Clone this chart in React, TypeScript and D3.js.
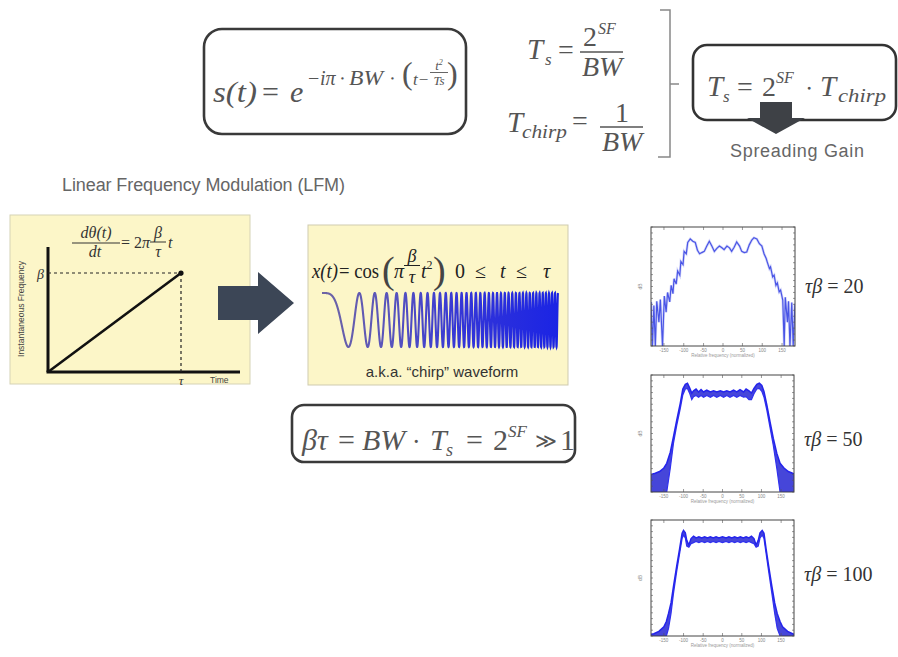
import * as d3 from "d3";

const SERIF = "'Liberation Serif', 'Times New Roman', serif";
const SANS = "'Liberation Sans', Arial, sans-serif";
const INK = "#555";

// time-bandwidth product of the drawn chirp, x(t) = cos(pi * beta/tau * t^2)
const CHIRP_TB = 80;
const CHIRP_SAMPLES = 4000;

// instantaneous frequency sketch (normalised t and f)
const LFM_T = [0, 1];
const LFM_F = [0, 1];

// spectrum plots: x is normalised frequency, y is relative magnitude
const SPEC_TICKS = [-0.82, -0.545, -0.27, 0, 0.27, 0.545, 0.82];
const SPEC_TICK_LABELS = ["-150", "-100", "-50", "0", "50", "100", "150"];

const TB20_X = [
  -1.0, -0.98, -0.96, -0.94, -0.92, -0.89, -0.87, -0.84, -0.815, -0.79, -0.77, -0.74, -0.72, -0.695,
  -0.68, -0.65, -0.63, -0.6, -0.585, -0.555, -0.54, -0.51, -0.49, -0.455, -0.42, -0.385, -0.355,
  -0.325, -0.295, -0.26, -0.225, -0.19, -0.155, -0.12, -0.085, -0.05, -0.015, 0.015, 0.055, 0.09,
  0.12, 0.155, 0.19, 0.23, 0.26, 0.295, 0.33, 0.365, 0.4, 0.43, 0.47, 0.505, 0.54, 0.57, 0.6, 0.615,
  0.645, 0.66, 0.69, 0.71, 0.735, 0.755, 0.78, 0.8, 0.83, 0.85, 0.865, 0.895, 0.91, 0.93, 0.955,
  0.975, 1.0,
];
const TB20_Y = [
  0.37, 0.0, 0.34, 0.0, 0.375, 0.2, 0.39, 0.0, 0.42, 0.285, 0.45, 0.37, 0.51, 0.44, 0.565, 0.52,
  0.63, 0.595, 0.71, 0.685, 0.795, 0.775, 0.87, 0.9, 0.88, 0.87, 0.805, 0.775, 0.785, 0.795, 0.84,
  0.88, 0.84, 0.795, 0.82, 0.84, 0.825, 0.81, 0.84, 0.825, 0.795, 0.83, 0.875, 0.84, 0.795, 0.785,
  0.79, 0.85, 0.89, 0.91, 0.9, 0.86, 0.84, 0.775, 0.735, 0.705, 0.65, 0.665, 0.58, 0.595, 0.51,
  0.53, 0.455, 0.47, 0.385, 0.0, 0.41, 0.2, 0.375, 0.0, 0.365, 0.0, 0.355,
];

const TB50_X = [
  -1.0, -0.94, -0.88, -0.82, -0.78, -0.73, -0.685, -0.64, -0.59, -0.555, -0.52, -0.49, -0.46, -0.43,
  -0.405, -0.37, -0.335, -0.3, -0.265, -0.22, -0.17, -0.125, -0.08, -0.03, 0.015, 0.06, 0.105, 0.155,
  0.2, 0.245, 0.295, 0.33, 0.37, 0.405, 0.44, 0.48, 0.515, 0.55, 0.58, 0.62, 0.665, 0.71, 0.76,
  0.805, 0.86, 0.92, 1.0,
];
const TB50_UPPER = [
  0.15, 0.16, 0.175, 0.205, 0.245, 0.34, 0.475, 0.615, 0.76, 0.88, 0.92, 0.93, 0.89, 0.845, 0.865,
  0.88, 0.855, 0.875, 0.855, 0.87, 0.855, 0.865, 0.855, 0.865, 0.855, 0.865, 0.855, 0.87, 0.855,
  0.875, 0.855, 0.88, 0.865, 0.845, 0.885, 0.92, 0.93, 0.91, 0.86, 0.745, 0.6, 0.46, 0.33, 0.245,
  0.205, 0.175, 0.155,
];
const TB50_LOWER = [
  0, 0, 0, 0, 0, 0.205, 0.42, 0.57, 0.715, 0.83, 0.88, 0.885, 0.845, 0.79, 0.815, 0.825, 0.81, 0.825,
  0.81, 0.825, 0.81, 0.825, 0.81, 0.825, 0.81, 0.825, 0.81, 0.825, 0.81, 0.825, 0.81, 0.815, 0.79,
  0.79, 0.84, 0.88, 0.885, 0.86, 0.81, 0.7, 0.55, 0.4, 0.2, 0, 0, 0, 0,
];

const TB100_X = [
  -1.0, -0.96, -0.89, -0.82, -0.785, -0.755, -0.72, -0.685, -0.64, -0.6, -0.565, -0.545, -0.52, -0.5,
  -0.47, -0.44, -0.405, -0.37, -0.33, -0.29, -0.25, -0.21, -0.17, -0.13, -0.09, -0.05, 0, 0.05, 0.09,
  0.13, 0.17, 0.21, 0.25, 0.29, 0.33, 0.37, 0.405, 0.44, 0.47, 0.5, 0.525, 0.555, 0.58, 0.61, 0.645,
  0.69, 0.73, 0.765, 0.805, 0.84, 0.91, 1.0,
];
const TB100_UPPER = [
  0.015, 0.02, 0.04, 0.08, 0.125, 0.195, 0.285, 0.43, 0.605, 0.75, 0.885, 0.91, 0.89, 0.825, 0.785,
  0.84, 0.86, 0.845, 0.855, 0.845, 0.855, 0.845, 0.855, 0.845, 0.855, 0.845, 0.855, 0.845, 0.855,
  0.845, 0.855, 0.845, 0.855, 0.845, 0.855, 0.845, 0.86, 0.84, 0.785, 0.825, 0.89, 0.91, 0.885, 0.75,
  0.605, 0.43, 0.285, 0.195, 0.125, 0.08, 0.04, 0.015,
];
const TB100_LOWER = [
  0, 0, 0, 0, 0, 0.065, 0.195, 0.37, 0.56, 0.71, 0.84, 0.87, 0.845, 0.775, 0.765, 0.795, 0.805, 0.815,
  0.805, 0.815, 0.805, 0.815, 0.805, 0.815, 0.805, 0.815, 0.805, 0.815, 0.805, 0.815, 0.805, 0.815,
  0.805, 0.815, 0.805, 0.815, 0.805, 0.795, 0.765, 0.775, 0.845, 0.87, 0.84, 0.71, 0.56, 0.37, 0.195,
  0.065, 0, 0, 0, 0,
];

type SpecProps = {
  id: string;
  left: number;
  top: number;
  width: number;
  height: number;
  xs: number[];
  upper: number[];
  lower?: number[];
  label: string;
  labelY: number;
};

function Spectrum({ id, left, top, width, height, xs, upper, lower, label, labelY }: SpecProps) {
  const x = d3.scaleLinear().domain([-1, 1]).range([left, left + width]);
  const y = d3.scaleLinear().domain([0, 1]).range([top + height, top]);
  const idx = d3.range(xs.length);

  const upperPath = d3
    .line<number>()
    .x((i) => x(xs[i]))
    .y((i) => y(upper[i]))(idx);
  const lowerPath = lower
    ? d3
        .line<number>()
        .x((i) => x(xs[i]))
        .y((i) => y(lower[i]))(idx)
    : null;
  const bandPath = lower
    ? d3
        .area<number>()
        .x((i) => x(xs[i]))
        .y0((i) => y(lower[i]))
        .y1((i) => y(upper[i]))(idx)
    : null;

  const yTicks = d3.range(0, 21).map((k) => k / 20);

  return (
    <g>
      <defs>
        <clipPath id={`clip-${id}`}>
          <rect x={left} y={top} width={width} height={height} />
        </clipPath>
      </defs>
      <rect x={left} y={top} width={width} height={height} fill="#fff" />
      <g clipPath={`url(#clip-${id})`}>
        {bandPath ? (
          <>
            <path d={bandPath} fill="#1818d0" opacity={0.8} />
            <path d={lowerPath ?? ""} fill="none" stroke="#3030f0" strokeWidth={1.2} />
            <path d={upperPath ?? ""} fill="none" stroke="#2424ec" strokeWidth={1.5} />
          </>
        ) : (
          <>
            <path d={upperPath ?? ""} fill="none" stroke="#b4b9f5" strokeWidth={2.6} opacity={0.6} />
            <path d={upperPath ?? ""} fill="none" stroke="#4a55e6" strokeWidth={1.2} />
          </>
        )}
      </g>
      <rect x={left} y={top} width={width} height={height} fill="none" stroke="#444" strokeWidth={1} />
      {yTicks.map((t) => (
        <g key={t} stroke="#555" strokeWidth={0.6}>
          <line x1={left} x2={left + 2} y1={y(t)} y2={y(t)} />
          <line x1={left + width - 2} x2={left + width} y1={y(t)} y2={y(t)} />
        </g>
      ))}
      {SPEC_TICKS.map((t, i) => (
        <g key={t}>
          <line x1={x(t)} x2={x(t)} y1={top + height} y2={top + height - 3} stroke="#555" strokeWidth={0.6} />
          <line x1={x(t)} x2={x(t)} y1={top} y2={top + 3} stroke="#555" strokeWidth={0.6} />
          <text x={x(t)} y={top + height + 5.5} fontSize={4.5} fill="#888" textAnchor="middle" fontFamily={SANS}>
            {SPEC_TICK_LABELS[i]}
          </text>
        </g>
      ))}
      <text
        x={left + width / 2}
        y={top + height + 11}
        fontSize={4.5}
        fill="#999"
        textAnchor="middle"
        fontFamily={SANS}
      >
        Relative frequency (normalized)
      </text>
      <text
        transform={`translate(${left - 9}, ${top + height / 2}) rotate(-90)`}
        fontSize={5}
        fill="#888"
        textAnchor="middle"
        fontFamily={SANS}
      >
        dB
      </text>
      <text x={left + width + 10} y={labelY} fontSize={20} fill="#333" fontFamily={SERIF}>
        <tspan fontStyle="italic">τβ</tspan> = {label}
      </text>
    </g>
  );
}

function Chirp() {
  const x0 = 322;
  const x1 = 558;
  const x = d3.scaleLinear().domain([0, 1]).range([x0, x1]);
  const y = d3.scaleLinear().domain([-1, 1]).range([347, 293]);
  const ts = d3.range(CHIRP_SAMPLES + 1).map((k) => k / CHIRP_SAMPLES);
  const path = d3
    .line<number>()
    .x((t) => x(t))
    .y((t) => y(Math.cos(Math.PI * CHIRP_TB * t * t)))(ts);
  return (
    <g>
      <defs>
        <linearGradient id="chirp-grad" gradientUnits="userSpaceOnUse" x1={x0} x2={x1} y1={0} y2={0}>
          <stop offset="0%" stopColor="#6e64a4" />
          <stop offset="30%" stopColor="#5753bd" />
          <stop offset="60%" stopColor="#3335d8" />
          <stop offset="100%" stopColor="#1b24e4" />
        </linearGradient>
      </defs>
      <path d={path ?? ""} fill="none" stroke="url(#chirp-grad)" strokeWidth={2.1} />
    </g>
  );
}

function LfmSketch() {
  const t = d3.scaleLinear().domain(LFM_T).range([48, 181]);
  const f = d3.scaleLinear().domain(LFM_F).range([372, 273]);
  const ramp = d3
    .line<number>()
    .x((v) => t(v))
    .y((v) => f(v))(LFM_T);
  return (
    <g>
      <rect x={10} y={215} width={240} height={169} fill="#fcf6c8" stroke="#d6d3b6" strokeWidth={1} />
      <line x1={t(0)} x2={t(0)} y1={247} y2={f(0)} stroke="#111" strokeWidth={3} />
      <line x1={t(0) - 1.5} x2={240} y1={f(0)} y2={f(0)} stroke="#111" strokeWidth={3} />
      <line x1={t(0)} x2={t(1)} y1={f(1)} y2={f(1)} stroke="#222" strokeWidth={1.2} strokeDasharray="3,3" />
      <line x1={t(1)} x2={t(1)} y1={f(1)} y2={f(0)} stroke="#222" strokeWidth={1.2} strokeDasharray="3,3" />
      <path d={ramp ?? ""} stroke="#111" strokeWidth={2.6} fill="none" />
      <circle cx={t(1)} cy={f(1)} r={2.6} fill="#111" />
      <text x={37} y={279} fontSize={14} fontStyle="italic" fontFamily={SERIF} fill="#333">
        β
      </text>
      <text x={t(1)} y={385} fontSize={13} fontStyle="italic" fontFamily={SERIF} fill="#333" textAnchor="middle">
        τ
      </text>
      <text x={210} y={383} fontSize={8.5} fontFamily={SANS} fill="#444">
        Time
      </text>
      <text
        transform="translate(24, 309) rotate(-90)"
        fontSize={8.5}
        fontFamily={SANS}
        fill="#444"
        textAnchor="middle"
      >
        Instantaneous Frequency
      </text>
      {/* d theta / dt = 2 pi beta / tau t */}
      <g fontFamily={SERIF} fontSize={16} fill="#333">
        <text x={96} y={238} fontStyle="italic" textAnchor="middle">
          dθ(t)
        </text>
        <line x1={72} x2={120} y1={243} y2={243} stroke="#333" strokeWidth={1} />
        <text x={95} y={257} fontStyle="italic" textAnchor="middle">
          dt
        </text>
        <text x={121} y={248}>
          = 2<tspan fontStyle="italic">π</tspan>
        </text>
        <text x={158} y={238} fontStyle="italic" textAnchor="middle">
          β
        </text>
        <line x1={150} x2={166} y1={242} y2={242} stroke="#333" strokeWidth={1} />
        <text x={158} y={257} fontStyle="italic" textAnchor="middle">
          τ
        </text>
        <text x={168} y={248} fontStyle="italic">
          t
        </text>
      </g>
    </g>
  );
}

export default function App() {
  return (
    <svg
      width={898}
      height={657}
      viewBox="0 0 898 657"
      style={{ position: "absolute", left: 0, top: 0, background: "#fff" }}
    >
      <rect x={0} y={0} width={898} height={657} fill="#fff" />

      {/* s(t) box */}
      <rect x={204} y={29} width={262} height={105} rx={18} fill="#fff" stroke="#3a3a3a" strokeWidth={2.6} />
      <g fontFamily={SERIF} fill={INK}>
        <text x={213} y={102} fontSize={30} fontStyle="italic" textLength={44} lengthAdjust="spacingAndGlyphs">
          s(t)
        </text>
        <text x={262} y={102} fontSize={30}>
          =
        </text>
        <text x={290} y={102} fontSize={30} fontStyle="italic">
          e
        </text>
        <text x={308} y={85} fontSize={20}>
          −
        </text>
        <text x={320} y={85} fontSize={20} fontStyle="italic">
          iπ
        </text>
        <text x={340} y={85} fontSize={20}>
          ∙
        </text>
        <text x={349} y={85} fontSize={21} fontStyle="italic" textLength={34} lengthAdjust="spacingAndGlyphs">
          BW
        </text>
        <text x={390} y={85} fontSize={20}>
          ∙
        </text>
        <text x={402} y={84} fontSize={32}>
          (
        </text>
        <text x={413} y={85} fontSize={17} fontStyle="italic">
          t−
        </text>
        <text x={439} y={70} fontSize={13} fontStyle="italic" textAnchor="middle">
          t<tspan fontSize={8} dy={-5}>2</tspan>
        </text>
        <line x1={430} x2={448} y1={72.5} y2={72.5} stroke={INK} strokeWidth={0.9} />
        <text x={439} y={85} fontSize={13} fontStyle="italic" textAnchor="middle">
          Ts
        </text>
        <text x={447} y={84} fontSize={32}>
          )
        </text>
      </g>

      {/* Ts = 2^SF / BW and Tchirp = 1 / BW */}
      <g fontFamily={SERIF} fill={INK}>
        <text x={527} y={59} fontSize={29} fontStyle="italic">
          T
        </text>
        <text x={545} y={65} fontSize={17} fontStyle="italic">
          s
        </text>
        <text x={558} y={59} fontSize={28}>
          =
        </text>
        <text x={583} y={46} fontSize={28}>
          2
        </text>
        <text x={598} y={34} fontSize={16} fontStyle="italic">
          SF
        </text>
        <line x1={580} x2={623} y1={52} y2={52} stroke={INK} strokeWidth={1.3} />
        <text x={582} y={76} fontSize={28} fontStyle="italic">
          BW
        </text>

        <text x={507} y={132} fontSize={29} fontStyle="italic">
          T
        </text>
        <text x={522} y={138} fontSize={19} fontStyle="italic" textLength={45} lengthAdjust="spacingAndGlyphs">
          chirp
        </text>
        <text x={572} y={130} fontSize={28}>
          =
        </text>
        <text x={615} y={122} fontSize={28}>
          1
        </text>
        <line x1={600} x2={643} y1={127} y2={127} stroke={INK} strokeWidth={1.3} />
        <text x={602} y={151} fontSize={28} fontStyle="italic">
          BW
        </text>
      </g>

      {/* bracket */}
      <path d="M660,10 H670 V157 H658" fill="none" stroke="#888" strokeWidth={1.5} />
      <line x1={670} x2={679} y1={84} y2={84} stroke="#888" strokeWidth={1.5} />

      {/* Ts = 2^SF * Tchirp box */}
      <rect x={693} y={45} width={203} height={75} rx={14} fill="#fff" stroke="#333" strokeWidth={2.6} />
      <g fontFamily={SERIF} fill={INK}>
        <text x={707} y={96} fontSize={29} fontStyle="italic">
          T
        </text>
        <text x={723} y={102} fontSize={17} fontStyle="italic">
          s
        </text>
        <text x={737} y={96} fontSize={28}>
          =
        </text>
        <text x={762} y={96} fontSize={28}>
          2
        </text>
        <text x={776} y={83} fontSize={16} fontStyle="italic">
          SF
        </text>
        <text x={806} y={96} fontSize={24}>
          ∙
        </text>
        <text x={820} y={96} fontSize={29} fontStyle="italic">
          T
        </text>
        <text x={838} y={102} fontSize={19} fontStyle="italic" textLength={48} lengthAdjust="spacingAndGlyphs">
          chirp
        </text>
      </g>
      <path d="M760,102 H792 V118 H805 L776,134 L747,118 H760 Z" fill="#3e4146" />
      <text x={797} y={157} fontSize={18} fontFamily={SANS} fill="#666" textAnchor="middle" textLength={134}>
        Spreading Gain
      </text>

      {/* section title */}
      <text x={62} y={191} fontSize={18} fontFamily={SANS} fill="#666" textLength={283}>
        Linear Frequency Modulation (LFM)
      </text>

      <LfmSketch />

      {/* big arrow */}
      <path d="M218,286 H258 V272 L294,303 L258,334 V320 H218 Z" fill="#3c4656" />

      {/* chirp panel */}
      <rect x={308} y={225} width={260} height={160} fill="#fcf6c8" stroke="#cfcbb0" strokeWidth={1} />
      <g fontFamily={SERIF} fill="#222">
        <text x={312} y={278} fontSize={20} fontStyle="italic" textLength={26} lengthAdjust="spacingAndGlyphs">
          x(t)
        </text>
        <text x={339} y={278} fontSize={20} textLength={40} lengthAdjust="spacingAndGlyphs">
          = cos
        </text>
        <text x={382} y={283} fontSize={38} fill="#444">
          (
        </text>
        <text x={394} y={278} fontSize={20} fontStyle="italic">
          π
        </text>
        <text x={412} y={262} fontSize={18} fontStyle="italic" textAnchor="middle">
          β
        </text>
        <line x1={404} x2={420} y1={265.5} y2={265.5} stroke="#222" strokeWidth={1} />
        <text x={412} y={283} fontSize={18} fontStyle="italic" textAnchor="middle">
          τ
        </text>
        <text x={421} y={278} fontSize={20} fontStyle="italic">
          t<tspan fontSize={12} dy={-9} fontStyle="normal">2</tspan>
        </text>
        <text x={433} y={283} fontSize={38} fill="#444">
          )
        </text>
        <text x={455} y={278} fontSize={20}>
          0
        </text>
        <text x={475} y={278} fontSize={20}>
          ≤
        </text>
        <text x={500} y={278} fontSize={20} fontStyle="italic">
          t
        </text>
        <text x={516} y={278} fontSize={20}>
          ≤
        </text>
        <text x={543} y={278} fontSize={20} fontStyle="italic">
          τ
        </text>
      </g>
      <Chirp />
      <text x={442} y={377} fontSize={15} fontFamily={SANS} fill="#333" textAnchor="middle">
        a.k.a. “chirp” waveform
      </text>

      {/* beta tau box */}
      <rect x={292} y={405} width={283} height={57} rx={12} fill="#fff" stroke="#3a3a3a" strokeWidth={2.6} />
      <g fontFamily={SERIF} fill={INK}>
        <text x={302} y={450} fontSize={30} fontStyle="italic">
          βτ
        </text>
        <text x={338} y={450} fontSize={30}>
          =
        </text>
        <text x={362} y={450} fontSize={30} fontStyle="italic">
          BW
        </text>
        <text x={413} y={450} fontSize={26}>
          ∙
        </text>
        <text x={430} y={450} fontSize={30} fontStyle="italic">
          T
        </text>
        <text x={446} y={456} fontSize={18} fontStyle="italic">
          s
        </text>
        <text x={466} y={450} fontSize={30}>
          =
        </text>
        <text x={493} y={450} fontSize={30}>
          2
        </text>
        <text x={508} y={437} fontSize={17} fontStyle="italic">
          SF
        </text>
        <text x={535} y={448} fontSize={21}>
          ≫
        </text>
        <text x={560} y={450} fontSize={30}>
          1
        </text>
      </g>

      {/* spectra */}
      <Spectrum
        id="tb20"
        left={651}
        top={227}
        width={144}
        height={119}
        xs={TB20_X}
        upper={TB20_Y}
        label="20"
        labelY={293}
      />
      <Spectrum
        id="tb50"
        left={651}
        top={375}
        width={143}
        height={117}
        xs={TB50_X}
        upper={TB50_UPPER}
        lower={TB50_LOWER}
        label="50"
        labelY={446}
      />
      <Spectrum
        id="tb100"
        left={651}
        top={520}
        width={143}
        height={116}
        xs={TB100_X}
        upper={TB100_UPPER}
        lower={TB100_LOWER}
        label="100"
        labelY={581}
      />
    </svg>
  );
}
